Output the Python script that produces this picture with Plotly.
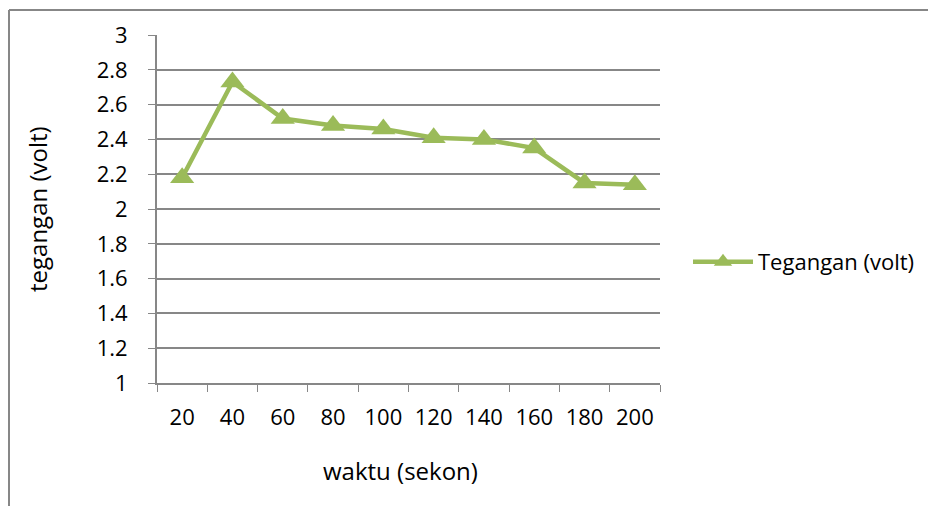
import plotly.graph_objects as go

waktu = ["20", "40", "60", "80", "100", "120", "140", "160", "180", "200"]
tegangan = [2.18, 2.73, 2.52, 2.48, 2.46, 2.41, 2.40, 2.35, 2.15, 2.14]
y_ticks = [1, 1.2, 1.4, 1.6, 1.8, 2, 2.2, 2.4, 2.6, 2.8, 3]
y_tick_labels = ["1", "1.2", "1.4", "1.6", "1.8", "2", "2.2", "2.4", "2.6", "2.8", "3"]

GREEN = "#9BBB59"
GRID = "#878787"
FONT = "Open Sans"

fig = go.Figure()
fig.add_trace(go.Scatter(
    x=waktu, y=tegangan, mode="lines+markers", name="Tegangan (volt)",
    line=dict(color=GREEN, width=4.5),
    marker=dict(symbol="triangle-up", size=21, color=GREEN),
))

OFF = 8  # page body margin
L, R, T, B = 157 - OFF, 660 - OFF, 35 - OFF, 383 - OFF
W, H = 936 - OFF, 506 - OFF
pw, ph = R - L, B - T

def px_x(px):
    return (px - OFF - L) / pw

def px_y(py):
    return (B - (py - OFF)) / ph

fig.update_layout(
    width=W, height=H,
    margin=dict(l=L, r=W - R, t=T, b=H - B, autoexpand=False),
    paper_bgcolor="white", plot_bgcolor="white",
    font=dict(family=FONT, size=22, color="black"),
    showlegend=True,
    legend=dict(x=px_x(688), y=px_y(262), xanchor="left", yanchor="middle",
                font=dict(size=22), itemwidth=60, bgcolor="rgba(0,0,0,0)"),
    xaxis=dict(type="category", range=[-0.5, 9.5], tickson="boundaries",
               ticks="outside", ticklen=7, tickcolor=GRID, showgrid=False,
               showline=True, linecolor=GRID, linewidth=2, zeroline=False,
               ticklabelstandoff=14, tickfont=dict(size=22)),
    yaxis=dict(range=[1, 3], tickvals=y_ticks, ticktext=y_tick_labels,
               ticks="outside", ticklen=7, tickcolor=GRID, showgrid=True,
               gridcolor=GRID, gridwidth=1.5, showline=True, linecolor=GRID,
               linewidth=2, zeroline=False, ticklabelstandoff=16,
               tickfont=dict(size=22)),
    annotations=[
        dict(text="tegangan (volt)", xref="paper", yref="paper",
             x=px_x(37), y=px_y(209), textangle=-90, showarrow=False,
             xanchor="center", yanchor="middle", font=dict(size=24)),
        dict(text="waktu (sekon)", xref="paper", yref="paper",
             x=px_x(400), y=px_y(470), showarrow=False,
             xanchor="center", yanchor="middle", font=dict(size=24)),
    ],
    shapes=[
        dict(type="line", xref="paper", yref="paper",
             x0=px_x(9), y0=px_y(10), x1=px_x(950), y1=px_y(10),
             line=dict(color=GRID, width=2)),
        dict(type="line", xref="paper", yref="paper",
             x0=px_x(9), y0=px_y(10), x1=px_x(9), y1=px_y(520),
             line=dict(color=GRID, width=2)),
    ],
)

fig.write_html("out.html")
